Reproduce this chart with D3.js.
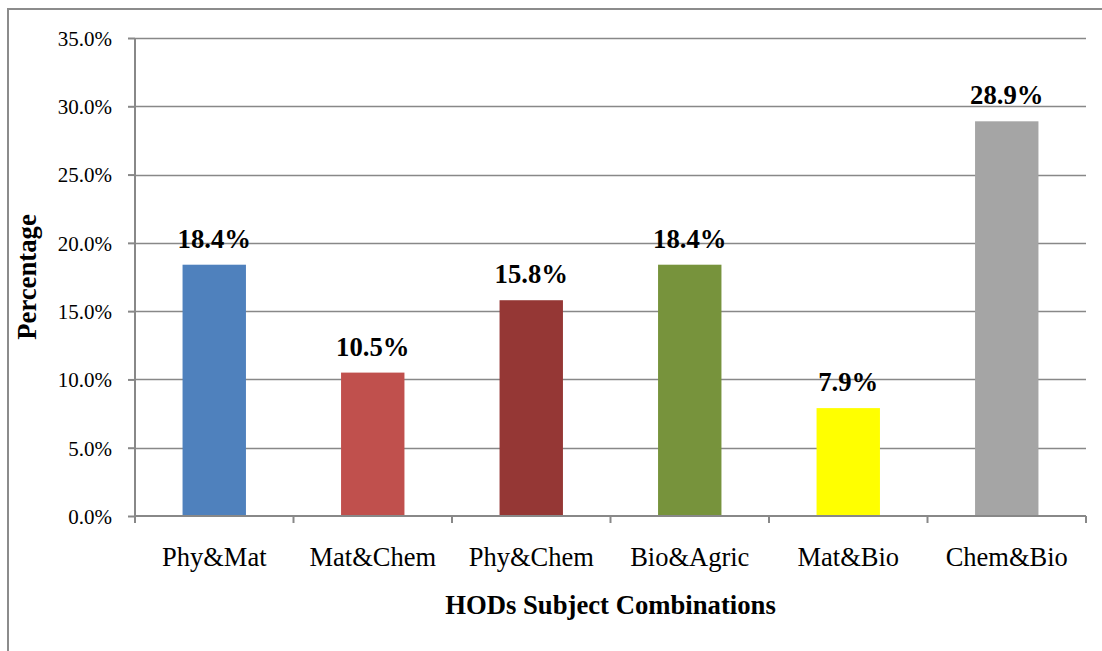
<!DOCTYPE html>
<html>
<head>
<meta charset="utf-8">
<script src="https://cdn.jsdelivr.net/npm/d3@7"></script>
<style>
  body { margin: 0; background: #fff; }
  svg text { font-family: "Liberation Serif", "Times New Roman", serif; fill: #000; }
</style>
</head>
<body>
<div id="chart"></div>
<script>
const categories = ["Phy&Mat", "Mat&Chem", "Phy&Chem", "Bio&Agric", "Mat&Bio", "Chem&Bio"];
const values = [18.4, 10.5, 15.8, 18.4, 7.9, 28.9];
const barColors = ["#4F81BD", "#C0504D", "#953735", "#77933C", "#FFFF00", "#A5A5A5"];
const yTicks = [0, 5, 10, 15, 20, 25, 30, 35];

const W = 1102, H = 651;
const m = {t: 38, r: 16, b: 135, l: 135};

const svg = d3.select("#chart").append("svg")
  .attr("width", W)
  .attr("height", H);

// outer chart border (runs off the right and bottom)
svg.append("rect")
  .attr("x", 8).attr("y", 9)
  .attr("width", 1200).attr("height", 800)
  .attr("fill", "none")
  .attr("stroke", "#8c8c8c")
  .attr("stroke-width", 2);

const x = d3.scaleBand()
  .domain(categories)
  .range([m.l, W - m.r])
  .paddingInner(0.6)
  .paddingOuter(0.3);

const y = d3.scaleLinear()
  .domain([0, 35])
  .range([H - m.b, m.t]);

// gridlines
svg.append("g")
  .selectAll("line")
  .data(yTicks.filter(d => d > 0))
  .join("line")
  .attr("x1", m.l).attr("x2", W - m.r)
  .attr("y1", d => Math.round(y(d)) + 0.5)
  .attr("y2", d => Math.round(y(d)) + 0.5)
  .attr("stroke", "#888")
  .attr("stroke-width", 1.5);

// bars
svg.append("g")
  .selectAll("rect")
  .data(values)
  .join("rect")
  .attr("x", (d, i) => x(categories[i]))
  .attr("width", x.bandwidth())
  .attr("y", d => y(d))
  .attr("height", d => y(0) - y(d))
  .attr("fill", (d, i) => barColors[i]);

// data labels
svg.append("g")
  .selectAll("text")
  .data(values)
  .join("text")
  .attr("x", (d, i) => x(categories[i]) + x.bandwidth() / 2)
  .attr("y", d => y(d) - 17)
  .attr("text-anchor", "middle")
  .style("font-size", "26.7px")
  .style("font-weight", "bold")
  .text(d => d.toFixed(1) + "%");

// y axis
const yAxis = svg.append("g")
  .attr("transform", `translate(${m.l},0)`)
  .call(d3.axisLeft(y).tickValues(yTicks).tickSize(7).tickPadding(16)
    .tickFormat(d => d.toFixed(1) + "%"));
yAxis.selectAll("line, path").attr("stroke", "#888").attr("stroke-width", 2);
yAxis.select(".domain").attr("d", `M0,${y(35)}V${y(0)}`);
yAxis.selectAll("text")
  .style("font-size", "21px")
  .style("font-family", "Liberation Serif")
  .attr("dy", "0.35em");

// x axis
const xAxis = svg.append("g")
  .attr("transform", `translate(0,${y(0)})`)
  .call(d3.axisBottom(x).tickSize(0).tickPadding(50));
xAxis.select(".domain")
  .attr("stroke", "#888").attr("stroke-width", 2)
  .attr("d", `M${m.l},0H${W - m.r}`);
xAxis.selectAll("text")
  .style("font-size", "26.5px")
  .style("font-family", "Liberation Serif")
  .attr("dy", "0");

// x ticks at category boundaries
const bounds = d3.range(categories.length + 1).map(i => m.l + i * (W - m.r - m.l) / categories.length);
xAxis.append("g")
  .selectAll("line")
  .data(bounds)
  .join("line")
  .attr("x1", d => d).attr("x2", d => d)
  .attr("y1", 0).attr("y2", 7)
  .attr("stroke", "#888")
  .attr("stroke-width", 2);

// axis titles
svg.append("text")
  .attr("transform", `translate(36,${(y(0) + y(35)) / 2}) rotate(-90)`)
  .attr("text-anchor", "middle")
  .style("font-size", "26.7px")
  .style("font-weight", "bold")
  .text("Percentage");

svg.append("text")
  .attr("x", (m.l + W - m.r) / 2)
  .attr("y", 614)
  .attr("text-anchor", "middle")
  .style("font-size", "26.7px")
  .style("font-weight", "bold")
  .text("HODs Subject Combinations");
</script>
</body>
</html>
